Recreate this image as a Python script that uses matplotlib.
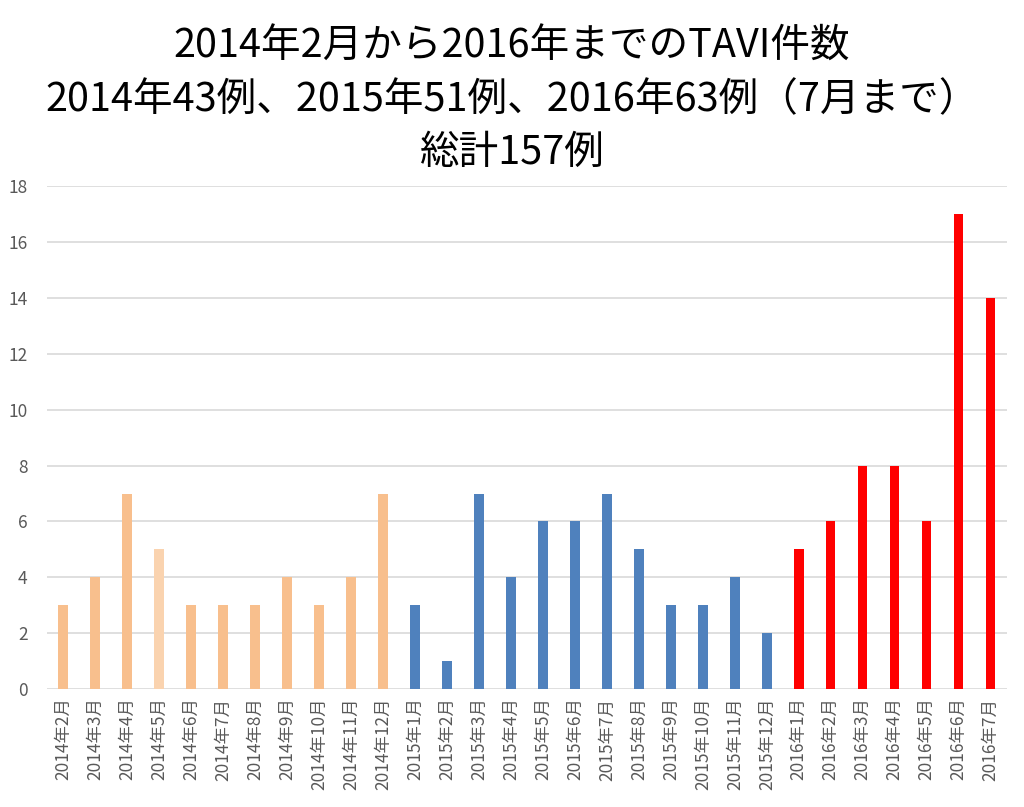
import matplotlib
matplotlib.use('Agg')
import matplotlib.pyplot as plt
import numpy as np

plt.rcParams['font.family'] = ['Noto Sans CJK JP', 'DejaVu Sans']

# Data
months = ['2014年2月', '2014年3月', '2014年4月', '2014年5月', '2014年6月', '2014年7月',
          '2014年8月', '2014年9月', '2014年10月', '2014年11月', '2014年12月',
          '2015年1月', '2015年2月', '2015年3月', '2015年4月', '2015年5月', '2015年6月',
          '2015年7月', '2015年8月', '2015年9月', '2015年10月', '2015年11月', '2015年12月',
          '2016年1月', '2016年2月', '2016年3月', '2016年4月', '2016年5月', '2016年6月',
          '2016年7月']
cases = [3, 4, 7, 5, 3, 3, 3, 4, 3, 4, 7,
         3, 1, 7, 4, 6, 6, 7, 5, 3, 3, 4, 2,
         5, 6, 8, 8, 6, 17, 14]
years = [m[:4] for m in months]

year_colors = {'2014': '#F8BF8D', '2015': '#4F81BD', '2016': '#FF0000'}
colors = [year_colors[y] for y in years]
colors[3] = '#FAD3AF'  # 2014年5月 is lighter in the original

titles = ['2014年2月から2016年までのTAVI件数',
          '2014年43例、2015年51例、2016年63例（7月まで）',
          '総計157例']

fig = plt.figure(figsize=(10.24, 8.07), dpi=100)
ax = fig.add_axes([0.046, 0.146, 0.937, 0.6235])

x = np.arange(len(months))
ax.bar(x, cases, width=0.3, color=colors, zorder=3)

ax.set_xlim(-0.5, len(months) - 0.5)
ax.set_ylim(0, 18)
ax.set_yticks(range(0, 19, 2))
ax.set_xticks(x)
ax.set_xticklabels(months, rotation=90, fontsize=12.5, color='#595959')
ax.tick_params(axis='y', labelsize=12.5, labelcolor='#595959', length=0, pad=14)
ax.tick_params(axis='x', length=0, pad=6)
ax.grid(axis='y', color='#D9D9D9', linewidth=1.2, zorder=0)
for s in ax.spines.values():
    s.set_visible(False)

# Title, three lines
for i, t in enumerate(titles):
    fig.text(0.5, 1 - (47 + i * 53) / 807, t, ha='center', va='center',
             fontsize=28.5, color='black')

fig.savefig('out.png', dpi=100)
